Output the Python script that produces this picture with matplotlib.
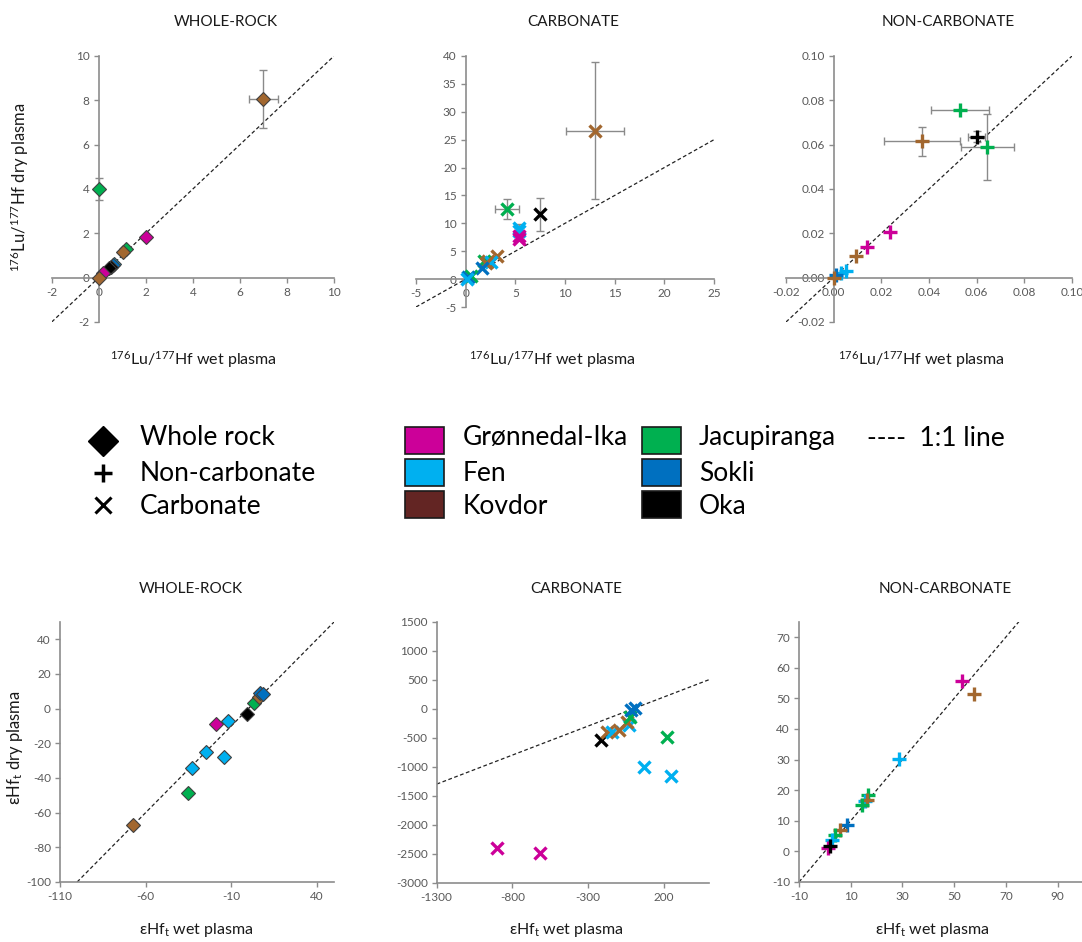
import matplotlib
matplotlib.use("Agg")
import matplotlib.pyplot as plt
from matplotlib.patches import Rectangle

plt.rcParams["font.family"] = ["Lato", "DejaVu Sans"]
plt.rcParams["mathtext.fontset"] = "custom"
plt.rcParams["mathtext.rm"] = "Lato"
plt.rcParams["mathtext.it"] = "Lato:italic"
plt.rcParams["mathtext.bf"] = "Lato:bold"

COLORS = {
    "Grønnedal-Ika": "#CC0099",
    "Fen": "#00B0F0",
    "Kovdor": "#A2672F",
    "Jacupiranga": "#00B050",
    "Sokli": "#0070C0",
    "Oka": "#000000",
}
LEGEND_COLORS = dict(COLORS, Kovdor="#632523")

# ── data: 176Lu/177Hf ──────────────────────────────
lu_wr_loc = ["Kovdor", "Jacupiranga", "Grønnedal-Ika", "Jacupiranga", "Kovdor",
             "Fen", "Sokli", "Oka", "Oka", "Grønnedal-Ika", "Kovdor"]
lu_wr_x = [7.0, 0.0, 2.0, 1.15, 1.05, 0.65, 0.6, 0.5, 0.45, 0.2, 0.0]
lu_wr_y = [8.05, 4.0, 1.85, 1.3, 1.15, 0.6, 0.55, 0.5, 0.45, 0.2, 0.0]
lu_wr_xerr = [0.6, 0, 0, 0, 0, 0, 0, 0, 0, 0, 0]
lu_wr_yerr = [1.3, 0.5, 0, 0, 0, 0, 0, 0, 0, 0, 0]

lu_cb_loc = ["Kovdor", "Jacupiranga", "Oka", "Fen", "Fen", "Grønnedal-Ika",
             "Grønnedal-Ika", "Kovdor", "Kovdor", "Jacupiranga", "Fen", "Kovdor",
             "Sokli", "Jacupiranga", "Sokli", "Fen"]
lu_cb_x = [13.0, 4.2, 7.5, 5.4, 5.4, 5.4, 5.4, 3.2, 2.2, 1.8, 2.6, 2.0,
           1.6, 0.5, 0.2, 0.1]
lu_cb_y = [26.6, 12.5, 11.6, 9.2, 8.6, 7.8, 7.2, 4.2, 3.2, 3.3, 3.0, 2.8,
           2.0, 0.5, 0.3, 0.1]
lu_cb_xerr = [2.9, 1.2, 0, 0, 0, 0, 0, 0, 0, 0, 0, 0, 0, 0, 0, 0]
lu_cb_yerr = [12.3, 1.8, 2.9, 0.6, 0, 0, 0, 0, 0, 0, 0, 0, 0, 0, 0, 0]

lu_nc_loc = ["Jacupiranga", "Oka", "Jacupiranga", "Kovdor", "Grønnedal-Ika",
             "Grønnedal-Ika", "Kovdor", "Fen", "Fen", "Sokli", "Kovdor"]
lu_nc_x = [0.053, 0.060, 0.0645, 0.037, 0.0235, 0.014, 0.0095, 0.005, 0.003,
           0.001, 0.0]
lu_nc_y = [0.0755, 0.0635, 0.059, 0.0615, 0.0205, 0.014, 0.0098, 0.003, 0.002,
           0.001, 0.0]
lu_nc_xerr = [0.012, 0.0035, 0.011, 0.016, 0, 0, 0, 0, 0, 0, 0]
lu_nc_yerr = [0, 0.0025, 0.0148, 0.0065, 0, 0, 0, 0, 0, 0, 0]

# ── data: eHf_t ─────────────────────────────────────
hf_wr_loc = ["Kovdor", "Jacupiranga", "Fen", "Fen", "Fen", "Grønnedal-Ika",
             "Fen", "Oka", "Jacupiranga", "Kovdor", "Sokli", "Sokli"]
hf_wr_x = [-67.5, -35, -33, -24.5, -14, -19, -12, -1, 3, 6, 7, 8.5]
hf_wr_y = [-67, -48.5, -34, -25, -28, -9, -7, -3, 3.5, 6.5, 9, 8.4]

hf_cb_loc = ["Grønnedal-Ika", "Grønnedal-Ika", "Oka", "Kovdor", "Fen", "Kovdor",
             "Fen", "Kovdor", "Jacupiranga", "Sokli", "Sokli", "Fen",
             "Jacupiranga", "Fen"]
hf_cb_x = [-900, -620, -215, -175, -142, -98, -31, -43, -20, -16, 12, 70, 220, 250]
hf_cb_y = [-2400, -2480, -540, -400, -397, -368, -282, -224, -138, -23, 6, -1000,
           -480, -1160]

hf_nc_loc = ["Grønnedal-Ika", "Kovdor", "Fen", "Jacupiranga", "Fen", "Kovdor",
             "Jacupiranga", "Sokli", "Kovdor", "Jacupiranga", "Fen",
             "Grønnedal-Ika", "Oka"]
hf_nc_x = [53, 57.5, 28.5, 16.5, 15.5, 16.2, 14.2, 8.5, 6, 3.9, 2.6, 1.3, 2.0]
hf_nc_y = [55.5, 51.3, 30.2, 18.5, 16.3, 16.8, 15.2, 8.7, 7.0, 5.2, 3.8, 1.1, 1.6]

LU_LABEL_X = r"$^{176}$Lu/$^{177}$Hf wet plasma"
LU_LABEL_Y = r"$^{176}$Lu/$^{177}$Hf dry plasma"
HF_LABEL_X = r"εHf$_{\mathrm{t}}$ wet plasma"
HF_LABEL_Y = r"εHf$_{\mathrm{t}}$ dry plasma"

SPINE = "#8C8C8C"
TICK_TXT = "#595959"


def style_axes(ax, xlim, ylim, xticks, yticks, fmt, cross_zero, line_end):
    ax.set_xlim(*xlim)
    ax.set_ylim(*ylim)
    ax.set_xticks(xticks)
    ax.set_yticks(yticks)
    ax.set_xticklabels([fmt.format(v) for v in xticks])
    ax.set_yticklabels([fmt.format(v) for v in yticks])
    for s in ("top", "right"):
        ax.spines[s].set_visible(False)
    for s in ("left", "bottom"):
        ax.spines[s].set_color(SPINE)
        ax.spines[s].set_linewidth(1.2)
    if cross_zero:
        ax.spines["left"].set_position(("data", 0))
        ax.spines["bottom"].set_position(("data", 0))
    ax.tick_params(direction="out", length=3.5, width=1, color=SPINE,
                   labelsize=8.5, labelcolor=TICK_TXT, pad=3)
    ax.patch.set_alpha(0)
    # 1:1 line
    ax.plot(line_end, line_end, ls=(0, (3, 2)), color="#222222", lw=0.9, zorder=1)


def scatter(ax, locs, xs, ys, marker, xerr=None, yerr=None):
    if xerr is None:
        xerr = [0] * len(xs)
        yerr = [0] * len(xs)
    for loc, x, y, ex, ey in zip(locs, xs, ys, xerr, yerr):
        if ex or ey:
            ax.errorbar(x, y, xerr=ex if ex else None, yerr=ey if ey else None,
                        fmt="none", ecolor="#8A8A8A", elinewidth=1, capsize=3,
                        capthick=1, zorder=2)
        c = COLORS[loc]
        if marker == "D":
            ax.plot(x, y, "D", ms=7, mfc=c, mec="#404040", mew=0.8, zorder=3)
        elif marker == "x":
            ax.plot(x, y, "x", ms=9, mec=c, mew=2.4, zorder=3)
        else:
            ax.plot(x, y, "+", ms=10, mec=c, mew=2.4, zorder=3)


fig = plt.figure(figsize=(10.82, 9.42), dpi=100)
W, H = 1082, 942


def px_axes(left, right, top, bottom):
    return fig.add_axes([left / W, 1 - bottom / H, (right - left) / W, (bottom - top) / H])


# top row
ax = px_axes(51.7, 334, 56, 322)
style_axes(ax, (-2, 10), (-2, 10), list(range(-2, 11, 2)), list(range(-2, 11, 2)),
           "{:g}", True, [-2, 10])
scatter(ax, lu_wr_loc, lu_wr_x, lu_wr_y, "D", lu_wr_xerr, lu_wr_yerr)

ax = px_axes(416, 714, 56, 307)
style_axes(ax, (-5, 25), (-5, 40), list(range(-5, 26, 5)), list(range(-5, 41, 5)),
           "{:g}", True, [-5, 25])
scatter(ax, lu_cb_loc, lu_cb_x, lu_cb_y, "x", lu_cb_xerr, lu_cb_yerr)

ax = px_axes(786, 1072, 56, 322)
t = [-0.02, 0.0, 0.02, 0.04, 0.06, 0.08, 0.10]
style_axes(ax, (-0.02, 0.10), (-0.02, 0.10), t, t, "{:.2f}", True, [-0.02, 0.10])
scatter(ax, lu_nc_loc, lu_nc_x, lu_nc_y, "+", lu_nc_xerr, lu_nc_yerr)

# bottom row
ax = px_axes(60, 334, 622, 882)
style_axes(ax, (-110, 50), (-100, 50), [-110, -60, -10, 40],
           list(range(-100, 41, 20)), "{:g}", False, [-100, 50])
scatter(ax, hf_wr_loc, hf_wr_x, hf_wr_y, "D")

ax = px_axes(436.7, 709, 621.7, 882.7)
style_axes(ax, (-1300, 500), (-3000, 1500), [-1300, -800, -300, 200],
           list(range(-3000, 1501, 500)), "{:g}", False, [-1300, 500])
scatter(ax, hf_cb_loc, hf_cb_x, hf_cb_y, "x")

ax = px_axes(799, 1083.5, 621.7, 882)
style_axes(ax, (-10, 100), (-10, 75), list(range(-10, 91, 20)),
           list(range(-10, 71, 10)), "{:g}", False, [-10, 75])
scatter(ax, hf_nc_loc, hf_nc_x, hf_nc_y, "+")

# titles and axis labels
for x, y, s in [(226, 22, "WHOLE-ROCK"), (573, 22, "CARBONATE"), (948, 22, "NON-CARBONATE"),
                (191, 589, "WHOLE-ROCK"), (576, 589, "CARBONATE"), (945, 589, "NON-CARBONATE")]:
    fig.text(x / W, 1 - y / H, s, ha="center", va="center", fontsize=11, color="#1a1a1a")

for x, s in [(193, LU_LABEL_X), (552, LU_LABEL_X), (921, LU_LABEL_X)]:
    fig.text(x / W, 1 - 360 / H, s, ha="center", va="center", fontsize=11.5, color="#1a1a1a")
for x, s in [(196, HF_LABEL_X), (566, HF_LABEL_X), (932, HF_LABEL_X)]:
    fig.text(x / W, 1 - 930 / H, s, ha="center", va="center", fontsize=11.5, color="#1a1a1a")
fig.text(20 / W, 1 - 187 / H, LU_LABEL_Y, rotation=90, ha="center", va="center",
         fontsize=12, color="#1a1a1a")
fig.text(15 / W, 1 - 748 / H, HF_LABEL_Y, rotation=90, ha="center", va="center",
         fontsize=12, color="#1a1a1a")

# legend block
lg = fig.add_axes([0, 0, 1, 1])
lg.set_xlim(0, W)
lg.set_ylim(H, 0)
lg.axis("off")
lg.plot(103, 441, "D", ms=15, color="black")
lg.plot(103, 473, "+", ms=13, mew=2.5, color="black")
lg.plot(103, 505, "x", ms=11, mew=2.2, color="black")
for y, s in [(445, "Whole rock"), (481, "Non-carbonate"), (514, "Carbonate")]:
    lg.text(140, y, s, fontsize=19, va="baseline", ha="left")

col1 = ["Grønnedal-Ika", "Fen", "Kovdor"]
col2 = ["Jacupiranga", "Sokli", "Oka"]
for (sx, tx, names) in [(405, 463, col1), (642, 699, col2)]:
    for (top, base, name) in zip([427, 459, 491], [445, 481, 514], names):
        lg.add_patch(Rectangle((sx, top), 39, 27, facecolor=LEGEND_COLORS[name],
                               edgecolor="#1a1a1a", lw=1.2))
        lg.text(tx, base, name, fontsize=19, va="baseline", ha="left")
lg.text(867, 446, "----  1:1 line", fontsize=19, va="baseline", ha="left")

fig.savefig("out.png", dpi=100)
